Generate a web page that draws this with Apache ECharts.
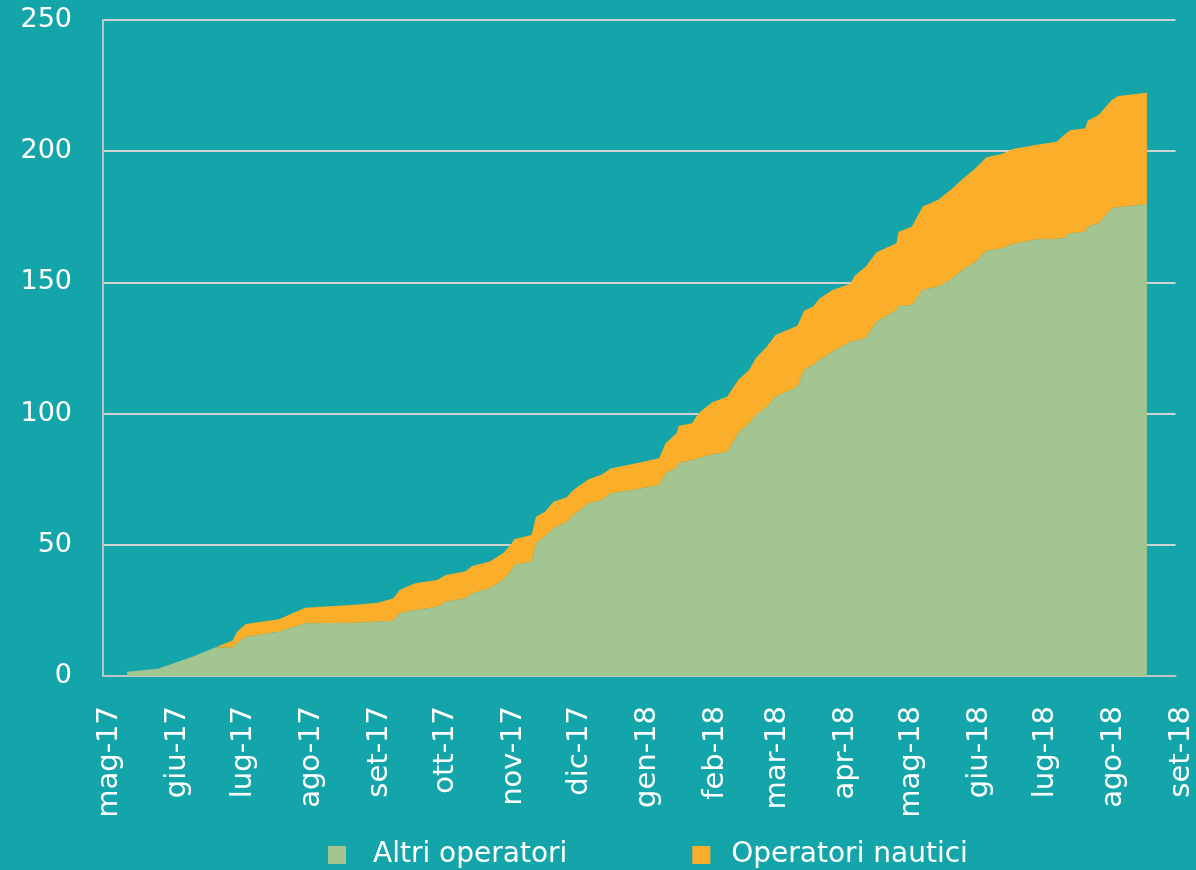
<!DOCTYPE html>
<html>
<head>
<meta charset="utf-8">
<script src="https://cdn.jsdelivr.net/npm/echarts@6/dist/echarts.min.js"></script>
<style>
html,body{margin:0;padding:0;background:#14A5AA;}
#chart{width:1196px;height:870px;}
</style>
</head>
<body>
<div id="chart"></div>
<script>
// Dates of the readings (cumulative counts)
const dates = [
  '2017-05-12','2017-05-26','2017-06-11','2017-06-21','2017-06-29','2017-07-01','2017-07-05','2017-07-20',
  '2017-08-01','2017-08-24','2017-09-03','2017-09-10','2017-09-13','2017-09-20','2017-09-30','2017-10-04',
  '2017-10-13','2017-10-16','2017-10-24','2017-10-30','2017-11-03','2017-11-04','2017-11-12','2017-11-14',
  '2017-11-18','2017-11-22','2017-11-28','2017-12-01','2017-12-08','2017-12-14','2017-12-18','2017-12-28',
  '2018-01-09','2018-01-12','2018-01-17','2018-01-18','2018-01-24','2018-01-27','2018-02-02','2018-02-09',
  '2018-02-14','2018-02-19','2018-02-22','2018-02-27','2018-03-03','2018-03-13','2018-03-16','2018-03-20',
  '2018-03-23','2018-03-29','2018-04-06','2018-04-08','2018-04-13','2018-04-18','2018-04-27','2018-04-28',
  '2018-05-04','2018-05-09','2018-05-16','2018-05-22','2018-05-27','2018-06-02','2018-06-07','2018-06-14',
  '2018-06-19','2018-06-30','2018-07-09','2018-07-12','2018-07-15','2018-07-22','2018-07-23','2018-07-28',
  '2018-08-03','2018-08-06','2018-08-19'
];
// Altri operatori (bottom layer)
const altri = [
  1.6, 2.8, 7.4, 10.9, 10.9, 12.5, 15.0, 16.9,
  20.1, 20.3, 20.8, 21.1, 23.9, 25.2, 26.4, 28.3,
  29.6, 31.5, 33.4, 36.6, 40.4, 42.3, 43.6, 50.6,
  53.1, 56.3, 58.8, 61.4, 65.8, 67.1, 69.6, 70.9,
  72.8, 77.2, 79.5, 81.1, 82.3, 83.0, 84.4, 85.5,
  92.5, 96.3, 99.5, 102.5, 106.4, 110.2, 116.6, 118.5,
  120.4, 123.6, 127.4, 127.8, 128.7, 135.0, 139.5, 140.9,
  141.4, 147.1, 148.4, 151.2, 154.7, 157.9, 162.1, 163.0,
  164.6, 166.4, 166.6, 166.8, 168.7, 169.3, 171.2, 172.5,
  178.2, 178.6, 179.9
];
// Operatori nautici (stacked on top)
const nautici = [
  0, 0, 0, 0, 2.6, 4.4, 4.8, 4.7,
  5.9, 6.9, 7.1, 8.4, 8.9, 10.1, 10.2, 10.2,
  10.3, 10.4, 10.2, 10.2, 10.1, 9.8, 10.1, 10.1,
  9.4, 10.1, 9.3, 9.5, 9.2, 9.7, 9.5, 9.9,
  10.2, 11.5, 13.0, 14.3, 14.0, 17.1, 19.8, 20.9,
  20.3, 20.3, 21.6, 23.0, 23.6, 23.3, 22.6, 22.2,
  23.5, 23.5, 22.1, 24.7, 27.3, 26.5, 25.4, 28.4,
  29.8, 31.8, 33.1, 34.3, 34.6, 35.6, 35.6, 35.9,
  36.2, 36.1, 37.0, 39.2, 39.3, 39.4, 40.4, 41.3,
  41.3, 42.4, 42.4
];
// Month tick positions and labels
const monthTicks = [
  '2017-05-01','2017-06-01','2017-07-01','2017-08-01','2017-09-01','2017-10-01','2017-11-01','2017-12-01',
  '2018-01-01','2018-02-01','2018-03-01','2018-04-01','2018-05-01','2018-06-01','2018-07-01','2018-08-01','2018-09-01'
];
const monthLabels = [
  'mag-17','giu-17','lug-17','ago-17','set-17','ott-17','nov-17','dic-17',
  'gen-18','feb-18','mar-18','apr-18','mag-18','giu-18','lug-18','ago-18','set-18'
];
const yTicks = [0, 50, 100, 150, 200, 250];

function ts(s) {
  const p = s.split('-').map(Number);
  return new Date(p[0], p[1] - 1, p[2]).getTime();
}
const tickTs = monthTicks.map(ts);
const DAY = 86400000;

const chart = echarts.init(document.getElementById('chart'));
const FONT = 'DejaVu Sans';
chart.setOption({
  backgroundColor: '#14A5AA',
  animation: false,
  textStyle: { fontFamily: FONT },
  grid: { left: 103, right: 20, top: 20, bottom: 194, containLabel: false },
  legend: {
    left: 323, top: 836,
    itemWidth: 18, itemHeight: 18, itemGap: 125,
    icon: 'rect',
    textStyle: { color: '#ffffff', fontSize: 28, fontFamily: FONT, lineHeight: 28 },
    data: [
      { name: 'Altri operatori', textStyle: { padding: [0, 0, 0, 22] } },
      { name: 'Operatori nautici', textStyle: { padding: [0, 0, 0, 16] } }
    ]
  },
  xAxis: {
    type: 'time',
    min: tickTs[0],
    max: tickTs[tickTs.length - 1],
    splitNumber: 16,
    minInterval: 28 * DAY,
    maxInterval: 31 * DAY,
    axisLine: { show: true, lineStyle: { color: '#BFC4C4', width: 2 } },
    axisTick: { show: false },
    splitLine: { show: false },
    axisLabel: {
      rotate: 90,
      margin: 30,
      padding: [12, 0, 0, 0],
      color: '#ffffff',
      fontSize: 29,
      fontFamily: FONT,
      hideOverlap: false,
      showMinLabel: true,
      showMaxLabel: true,
      formatter: function (v) {
        let best = 0, bd = Infinity;
        for (let i = 0; i < tickTs.length; i++) {
          const d = Math.abs(tickTs[i] - v);
          if (d < bd) { bd = d; best = i; }
        }
        return monthLabels[best];
      }
    }
  },
  yAxis: {
    type: 'value',
    min: yTicks[0],
    max: yTicks[yTicks.length - 1],
    interval: 50,
    axisLine: { show: true, lineStyle: { color: '#BFC4C4', width: 2 } },
    axisTick: { show: false },
    splitLine: { show: true, lineStyle: { color: '#CFD3D3', width: 2 } },
    axisLabel: { color: '#ffffff', fontSize: 27, fontFamily: FONT, margin: 31 }
  },
  series: [
    {
      name: 'Altri operatori',
      type: 'line',
      stack: 'tot',
      symbol: 'none',
      showSymbol: false,
      lineStyle: { width: 0 },
      itemStyle: { color: '#A2C591' },
      areaStyle: { color: '#A2C591', opacity: 1 },
      data: dates.map((d, i) => [ts(d), altri[i]])
    },
    {
      name: 'Operatori nautici',
      type: 'line',
      stack: 'tot',
      symbol: 'none',
      showSymbol: false,
      lineStyle: { width: 0 },
      itemStyle: { color: '#FBAE2A' },
      areaStyle: { color: '#FBAE2A', opacity: 1 },
      data: dates.map((d, i) => [ts(d), nautici[i]])
    }
  ]
});
</script>
</body>
</html>
